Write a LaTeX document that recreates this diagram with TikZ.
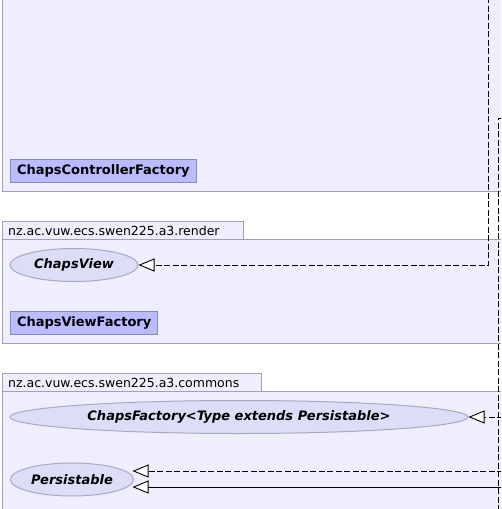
\documentclass[tikz,border=0pt]{standalone}
\usepackage{fontspec}
\setmainfont{DejaVu Sans}
\usetikzlibrary{shapes.geometric,arrows.meta}
\definecolor{pkgfill}{HTML}{EEEEFC}
\definecolor{pkgline}{HTML}{A0A0B4}
\definecolor{clsfill}{HTML}{BBBBFF}
\definecolor{clsline}{HTML}{8888BB}
\definecolor{ifcfill}{HTML}{DDDDF8}
\definecolor{ifcline}{HTML}{A8A8C0}

\begin{document}
\begin{tikzpicture}[x=1pt, y=-1pt,
  pkg/.style={draw=pkgline, fill=pkgfill, line width=1pt},
  pkglabel/.style={anchor=west, inner sep=0pt, font=\fontsize{12.5}{14}\selectfont},
  cls/.style={draw=clsline, fill=clsfill, line width=1pt, anchor=west, inner xsep=6.5pt,
    inner ysep=0pt, minimum height=23pt, font=\fontsize{13}{15}\selectfont\bfseries},
  ifc/.style={ellipse, draw=ifcline, fill=ifcfill, line width=1pt, inner sep=0pt,
    minimum height=33pt, font=\fontsize{13}{15}\selectfont\bfseries\itshape},
  realize/.style={line width=0.9pt, dash pattern=on 6pt off 2.5pt,
    -{Triangle[length=16pt, width=13pt, fill=white]}},
  extend/.style={line width=0.9pt, -{Triangle[length=16pt, width=13pt, fill=white]}},
  depline/.style={line width=0.9pt, dash pattern=on 6pt off 2.5pt}]

  \useasboundingbox (0,0) rectangle (501,509);
  \clip (0,0) rectangle (501,509);

  % packages
  \draw[pkg] (2.5,-20) rectangle (520,191);
  \draw[pkg] (2.5,221.5) rectangle (243,239);
  \draw[pkg] (2.5,239) rectangle (520,343);
  \draw[pkg] (2.5,373.5) rectangle (261,391);
  \draw[pkg] (2.5,391) rectangle (520,530);
  \node[pkglabel] (render) at (8,230.5) {nz.ac.vuw.ecs.swen225.a3.render};
  \node[pkglabel] (commons) at (8,382.5) {nz.ac.vuw.ecs.swen225.a3.commons};

  % classes and interfaces
  \node[cls] (ccf) at (10,171) {ChapsControllerFactory};
  \node[ifc, minimum width=128pt] (cv) at (74,265) {ChapsView};
  \node[cls] (cvf) at (10,322.5) {ChapsViewFactory};
  \node[ifc, minimum width=458pt] (cf) at (239,417) {ChapsFactory<Type extends Persistable>};
  \node[ifc, minimum width=123pt] (ps) at (72,479.5) {Persistable};

  % connectors coming in from the right
  \coordinate (a1) at (488.5,-20);
  \coordinate (b1) at (520,118.5);
  \coordinate (b2) at (498.5,530);
  \coordinate (c1) at (520,417);
  \coordinate (d1) at (520,471);
  \coordinate (e1) at (520,487);

  \draw[realize] (a1) |- (cv.east);
  \draw[depline] (b1) -| (b2);
  \draw[realize] (c1) -- (cf.east);
  \draw[realize] (d1) -- ([xshift=-1.5pt, yshift=8.5pt]ps.east);
  \draw[extend] (e1) -- ([xshift=-1.5pt, yshift=-7.5pt]ps.east);
\end{tikzpicture}
\end{document}
